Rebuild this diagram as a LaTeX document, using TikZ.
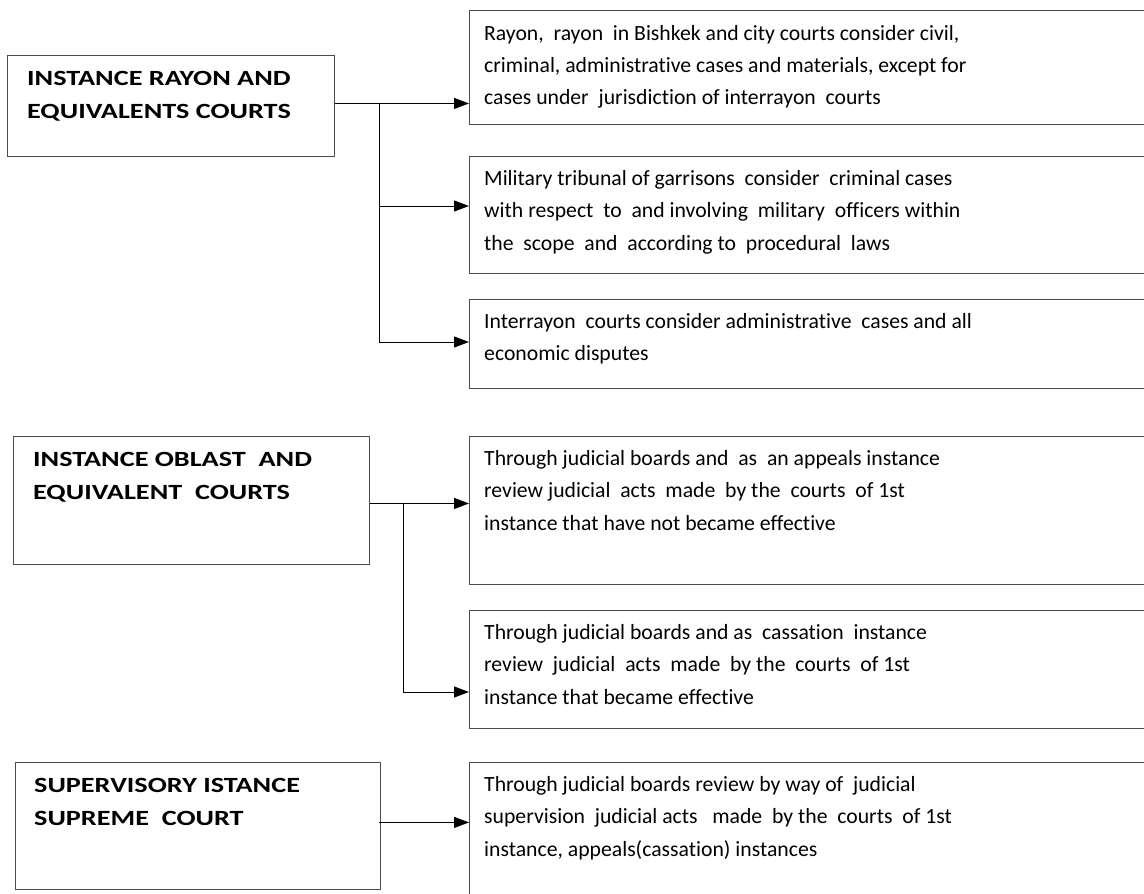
\documentclass[tikz,border=0pt]{standalone}
\usepackage{fontspec}
\setmainfont[Ligatures=NoCommon]{Carlito}
\newfontfamily\headfont[FakeStretch=1.3,Ligatures=NoCommon]{Carlito}
\usetikzlibrary{arrows.meta,calc}
% text block whose reference point is the baseline of its first line
\newcommand{\toplines}[1]{\parbox[t]{660pt}{\raggedright #1}}

\begin{document}
\begin{tikzpicture}[x=1pt,y=-1pt,
  box/.style={draw=black!70,line width=1pt,rectangle,inner sep=0pt,anchor=north west},
  head/.style={anchor=base west,inner sep=0pt,
    font=\headfont\bfseries\fontsize{21.7}{33}\selectfont},
  desc/.style={anchor=base west,inner sep=0pt,
    font=\fontsize{21.7}{32.5}\selectfont},
  link/.style={line width=1pt,draw=black},
  arrow/.style={link,-{Triangle[length=15pt,width=11pt]}}]
\useasboundingbox (0,0) rectangle (1144,894);

% court instances (left column)
\node[box,minimum width=327pt,minimum height=101pt] (L1) at (7,55) {};
\node[box,minimum width=356pt,minimum height=128pt] (L2) at (13,436) {};
\node[box,minimum width=365pt,minimum height=127pt] (L3) at (15,762) {};

% competences (right column, running past the right edge)
\node[box,minimum width=700pt,minimum height=114pt] (R1) at (469,10) {};
\node[box,minimum width=700pt,minimum height=117pt] (R2) at (469,156) {};
\node[box,minimum width=700pt,minimum height=89pt] (R3) at (469,299) {};
\node[box,minimum width=700pt,minimum height=148pt] (R4) at (469,436) {};
\node[box,minimum width=700pt,minimum height=118pt] (R5) at (469,610) {};
\node[box,minimum width=700pt,minimum height=150pt] (R6) at (469,762) {};

% texts
\node[head] (tL1) at (27,85) {\toplines{INSTANCE RAYON AND\\EQUIVALENTS COURTS}};
\node[head] (tL2) at (33,466) {\toplines{INSTANCE OBLAST\ \ AND\\EQUIVALENT\ \ COURTS}};
\node[head] (tL3) at (34,792) {\toplines{SUPERVISORY ISTANCE\\SUPREME\ \ COURT}};

\node[desc] (tR1) at (484,40) {\toplines{Rayon,\ \ rayon\ \ in Bishkek and city courts consider civil,\\criminal, administrative cases and materials, except for\\cases under\ \ jurisdiction of interrayon\ \ courts}};
\node[desc] (tR2) at (484,185) {\toplines{Military tribunal of garrisons\ \ consider\ \ criminal cases\\with respect\ \ to\ \ and involving\ \ military\ \ officers within\\the\ \ scope\ \ and\ \ according to\ \ procedural\ \ laws}};
\node[desc] (tR3) at (484,328) {\toplines{Interrayon\ \ courts consider administrative\ \ cases and all\\economic disputes}};
\node[desc] (tR4) at (484,465) {\toplines{Through judicial boards and\ \ as\ \ an appeals instance\\review judicial\ \ acts\ \ made\ \ by the\ \ courts\ \ of 1st\\instance that have not became effective}};
\node[desc] (tR5) at (484,639) {\toplines{Through judicial boards and as\ \ cassation\ \ instance\\review\ \ judicial\ \ acts\ \ made\ \ by the\ \ courts\ \ of 1st\\instance that became effective}};
\node[desc] (tR6) at (484,791) {\toplines{Through judicial boards review by way of\ \ judicial\\supervision\ \ judicial acts\ \ \ made\ \ by the\ \ courts\ \ of 1st\\instance, appeals(cassation) instances}};

% connectors
\coordinate (o1) at ($(L1.north east)!0.475!(L1.south east)$);
\coordinate (j1) at (379,0 |- o1);
\coordinate (j2) at (379,206);
\coordinate (j3) at (379,342);
\draw[arrow] (o1) -- (o1 -| R1.west);
\draw[link] (j1) -- (j3);
\draw[arrow] (j2) -- (j2 -| R2.west);
\draw[arrow] (j3) -- (j3 -| R3.west);

\coordinate (o2) at ($(L2.north east)!0.523!(L2.south east)$);
\coordinate (k1) at (403,0 |- o2);
\coordinate (k2) at (403,692);
\draw[arrow] (o2) -- (o2 -| R4.west);
\draw[link] (k1) -- (k2);
\draw[arrow] (k2) -- (k2 -| R5.west);

\coordinate (o3) at ($(L3.north east)!0.472!(L3.south east)+(-2,0)$);
\draw[arrow] (o3) -- (o3 -| R6.west);
\end{tikzpicture}
\end{document}
